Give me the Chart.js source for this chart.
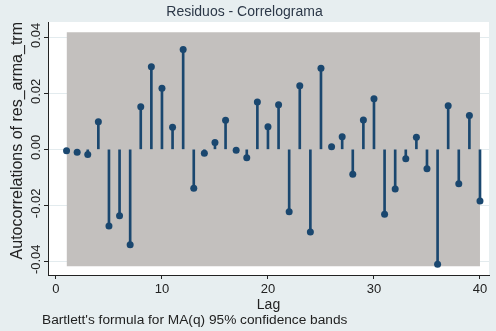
<!DOCTYPE html>
<html lang="pt">
  <head>
    <meta charset="UTF-8" />
    <title>Residuos - Correlograma</title>
    <script src="https://cdn.jsdelivr.net/npm/chart.js"></script>
    <style>
      html, body { margin: 0; padding: 0; background: #e7eef0; }
      .grafico { width: 496px; height: 331px; }
    </style>
  </head>
  <body>
    <div class="grafico">
      <canvas id="correlograma"></canvas>
    </div>

<script>
// dados
const lags = [1, 2, 3, 4, 5, 6, 7, 8, 9, 10, 11, 12, 13, 14, 15, 16, 17, 18, 19, 20,
              21, 22, 23, 24, 25, 26, 27, 28, 29, 30, 31, 32, 33, 34, 35, 36, 37, 38, 39, 40];
const autocorr = [-0.0005, -0.0010, -0.0018, 0.0099, -0.0274, -0.0237, -0.0341, 0.0152, 0.0295, 0.0218,
                  0.0079, 0.0357, -0.0139, -0.0014, 0.0024, 0.0104, -0.0003, -0.0030, 0.0169, 0.0081,
                  0.0159, -0.0223, 0.0227, -0.0295, 0.0290, 0.0009, 0.0045, -0.0089, 0.0105, 0.0181,
                  -0.0232, -0.0142, -0.0034, 0.0043, -0.0069, -0.0411, 0.0156, -0.0123, 0.0121, -0.0185];
// bandas de confiança (Bartlett)
const bandaLags = [1, 40];
const bandaSup = [0.0418, 0.0418];
const bandaInf = [-0.0418, -0.0418];
// ticks
const xTicks = [0, 10, 20, 30, 40];
const yTicks = [-0.04, -0.02, 0, 0.02, 0.04];

const fonte = "'Liberation Sans', Arial, sans-serif";
const azul = '#1a476f';
const cinza = '#c3c0be';
const texto = '#222222';

// fundo azulado + área branca, rótulos do eixo y girados e nota de rodapé
const fundoPlugin = {
  id: 'fundo',
  beforeDraw(chart) {
    const { ctx, chartArea, width, height } = chart;
    ctx.save();
    ctx.fillStyle = '#e7eef0';
    ctx.fillRect(0, 0, width, height);
    ctx.fillStyle = '#ffffff';
    ctx.fillRect(chartArea.left, chartArea.top, chartArea.right - chartArea.left, chartArea.bottom - chartArea.top);
    ctx.restore();
  },
  afterDraw(chart) {
    const { ctx } = chart;
    const y = chart.scales.y;
    ctx.save();
    ctx.fillStyle = texto;
    ctx.font = '13px ' + fonte;
    ctx.textAlign = 'center';
    ctx.textBaseline = 'middle';
    y.ticks.forEach(function (t) {
      const py = y.getPixelForValue(t.value);
      ctx.save();
      ctx.translate(36, py - 2);
      ctx.rotate(-Math.PI / 2);
      ctx.fillText(t.value.toFixed(2), 0, 0);
      ctx.restore();
    });
    ctx.font = '13.7px ' + fonte;
    ctx.textAlign = 'left';
    ctx.fillText("Bartlett's formula for MA(q) 95% confidence bands", 42, 320);
    ctx.restore();
  }
};

const ctx = document.getElementById('correlograma');

new Chart(ctx, {
  type: 'bar',
  data: {
    datasets: [
      {
        type: 'scatter',
        data: lags.map((l, i) => ({ x: l, y: autocorr[i] })),
        backgroundColor: azul,
        borderWidth: 0,
        pointRadius: 3.5,
        order: 1
      },
      {
        type: 'bar',
        data: lags.map((l, i) => ({ x: l, y: [0, autocorr[i]] })),
        backgroundColor: azul,
        barThickness: 2,
        order: 2
      },
      {
        type: 'line',
        data: bandaLags.map((l, i) => ({ x: l, y: bandaSup[i] })),
        borderWidth: 0,
        pointRadius: 0,
        backgroundColor: cinza,
        fill: '+1',
        order: 3
      },
      {
        type: 'line',
        data: bandaLags.map((l, i) => ({ x: l, y: bandaInf[i] })),
        borderWidth: 0,
        pointRadius: 0,
        fill: false,
        order: 4
      }
    ]
  },
  options: {
    responsive: true,
    maintainAspectRatio: false,
    animation: false,
    layout: { padding: { left: 0, top: 0, right: 7, bottom: 0 } },
    plugins: {
      legend: { display: false },
      tooltip: { enabled: false },
      title: {
        display: true,
        text: 'Residuos - Correlograma',
        color: '#2c3848',
        font: { family: fonte, size: 14, weight: 'normal', lineHeight: 1.2 },
        padding: { top: 4, bottom: 1.2 }
      }
    },
    scales: {
      x: {
        type: 'linear',
        offset: false,
        min: -0.75,
        max: 40.85,
        afterBuildTicks(scale) { scale.ticks = xTicks.map(v => ({ value: v })); },
        afterFit(scale) { scale.height = 56; },
        grid: { offset: false, drawOnChartArea: false, drawTicks: true, tickLength: 4, tickColor: texto },
        border: { display: true, color: texto, width: 1 },
        ticks: { color: texto, padding: 3, maxRotation: 0, font: { family: fonte, size: 13 } },
        title: {
          display: true,
          text: 'Lag',
          color: texto,
          font: { family: fonte, size: 14, lineHeight: 1.2 },
          padding: { top: 0, bottom: 17.6 }
        }
      },
      y: {
        min: -0.0449,
        max: 0.0455,
        afterBuildTicks(scale) { scale.ticks = yTicks.map(v => ({ value: v })); },
        afterFit(scale) { scale.width = 48; },
        grid: { color: '#e3ebee', drawTicks: true, tickLength: 4, tickColor: texto },
        border: { display: true, color: texto, width: 1 },
        ticks: { display: false },
        title: {
          display: true,
          text: 'Autocorrelations of res_arma_trm',
          align: 'end',
          color: texto,
          font: { family: fonte, size: 16, lineHeight: 1.2 },
          padding: { top: 8.4, bottom: 0 }
        }
      }
    }
  },
  plugins: [fundoPlugin]
});
</script>
  </body>
</html>
